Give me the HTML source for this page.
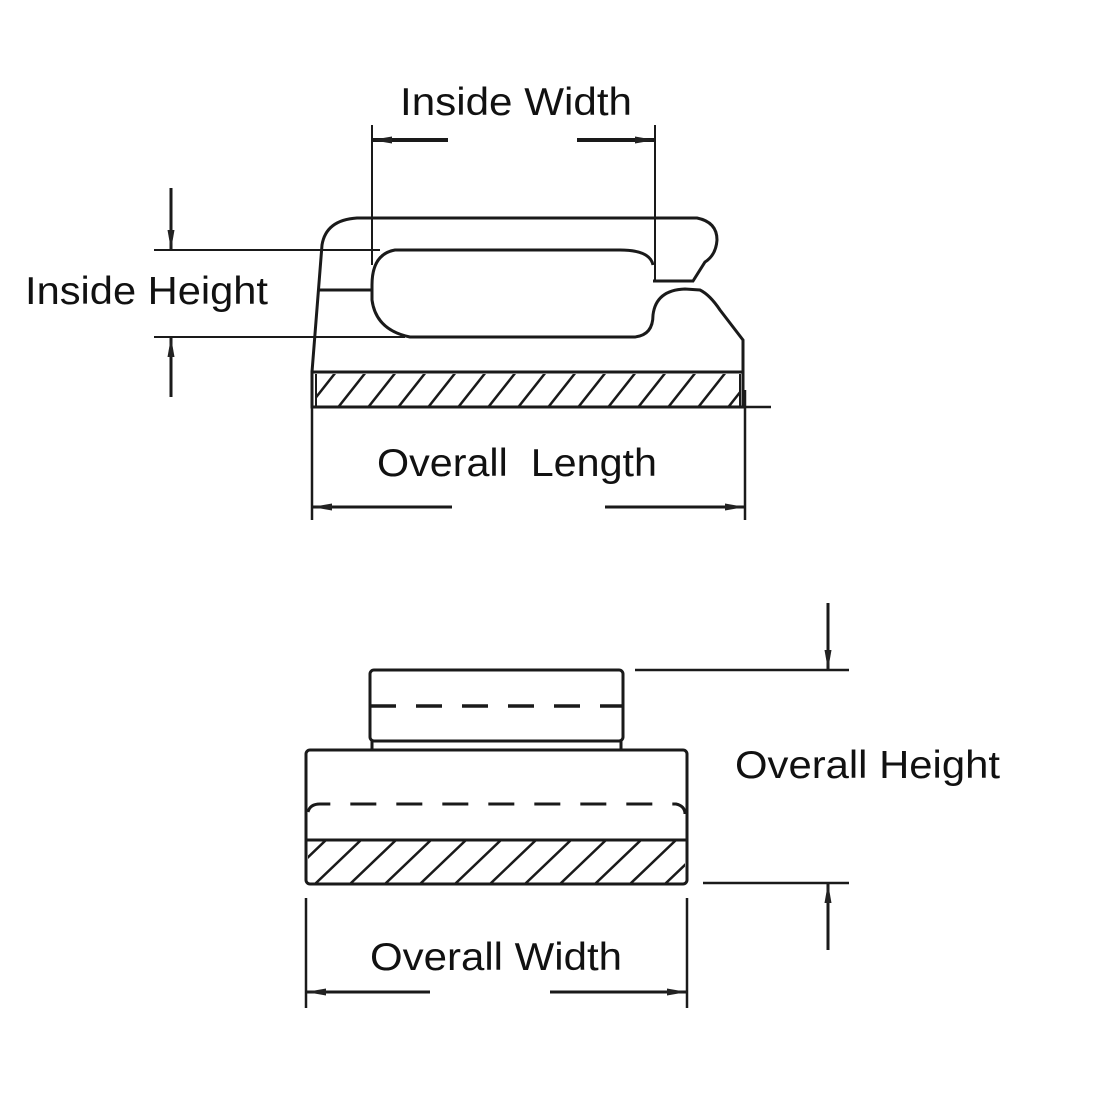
<!DOCTYPE html>
<html><head><meta charset="utf-8"><style>html,body{margin:0;padding:0;background:#fff}svg{display:block}</style></head>
<body>
<svg width="1100" height="1100" viewBox="0 0 1100 1100" xmlns="http://www.w3.org/2000/svg">
<defs>
<marker id="ar" markerWidth="20" markerHeight="10" refX="19" refY="5" orient="auto" markerUnits="userSpaceOnUse">
<path d="M0,1.5 L20,5 L0,8.5 Z" fill="#222"/>
</marker>
<clipPath id="c1"><rect x="316" y="374" width="424" height="32"/></clipPath>
<clipPath id="c2"><rect x="308" y="841" width="377" height="42"/></clipPath>
</defs>
<g fill="none" stroke="#1a1a1a" stroke-width="3" stroke-linecap="butt">
<path d="M312,372 L322,245 Q326,220 357,218 L697,218 Q717,222 717,240 Q716,255 705,262 L693,281 L653,281"/>
<path d="M653,265 Q650,250 620,250 L395,250 Q372,254 372,285 L372,300 Q376,330 410,337 L635,337 Q653,335 653,315 Q656,290 685,289 L700,290 Q710,295 720,310 L743,340 L743,372"/>
<line x1="318" y1="290" x2="372" y2="290"/>
<rect x="312" y="372" width="431" height="35"/>
<line x1="316" y1="374" x2="316" y2="406" stroke-width="2"/>
<line x1="740" y1="374" x2="740" y2="406" stroke-width="2"/>
<g clip-path="url(#c1)" stroke-width="2.5">
<path d="M306,410 L336,372 M336,410 L366,372 M366,410 L396,372 M396,410 L426,372 M426,410 L456,372 M456,410 L486,372 M486,410 L516,372 M516,410 L546,372 M546,410 L576,372 M576,410 L606,372 M606,410 L636,372 M636,410 L666,372 M666,410 L696,372 M696,410 L726,372 M726,410 L756,372"/>
</g>
<line x1="372" y1="125" x2="372" y2="265" stroke-width="2"/>
<line x1="655" y1="125" x2="655" y2="281" stroke-width="2"/>
<line x1="448" y1="140" x2="373" y2="140" stroke-width="4" marker-end="url(#ar)"/>
<line x1="577" y1="140" x2="654" y2="140" stroke-width="4" marker-end="url(#ar)"/>
<line x1="154" y1="250" x2="380" y2="250" stroke-width="2"/>
<line x1="154" y1="337" x2="405" y2="337" stroke-width="2"/>
<line x1="171" y1="188" x2="171" y2="249" stroke-width="3" marker-end="url(#ar)"/>
<line x1="171" y1="397" x2="171" y2="338" stroke-width="3" marker-end="url(#ar)"/>
<line x1="312" y1="390" x2="312" y2="520" stroke-width="2.5"/>
<line x1="745" y1="390" x2="745" y2="520" stroke-width="2.5"/>
<line x1="743" y1="407" x2="771" y2="407" stroke-width="2.5"/>
<line x1="452" y1="507" x2="313" y2="507" stroke-width="3" marker-end="url(#ar)"/>
<line x1="605" y1="507" x2="744" y2="507" stroke-width="3" marker-end="url(#ar)"/>
<rect x="370" y="670" width="253" height="71" rx="4"/>
<line x1="370" y1="706" x2="623" y2="706" stroke-dasharray="26,20" stroke-width="3.5"/>
<line x1="372" y1="741" x2="372" y2="750"/>
<line x1="621" y1="741" x2="621" y2="750"/>
<rect x="306" y="750" width="381" height="134" rx="4"/>
<path d="M308,812 Q310,804 320,804 L676,804 Q685,806 685,814" stroke-dasharray="26,20"/>
<line x1="306" y1="840" x2="687" y2="840"/>
<g clip-path="url(#c2)" stroke-width="2.5">
<path d="M280,884 L326,840 M315,884 L361,840 M350,884 L396,840 M385,884 L431,840 M420,884 L466,840 M455,884 L501,840 M490,884 L536,840 M525,884 L571,840 M560,884 L606,840 M595,884 L641,840 M630,884 L676,840 M665,884 L711,840"/>
</g>
<line x1="635" y1="670" x2="849" y2="670" stroke-width="2.5"/>
<line x1="703" y1="883" x2="849" y2="883" stroke-width="2.5"/>
<line x1="828" y1="603" x2="828" y2="669" stroke-width="3" marker-end="url(#ar)"/>
<line x1="828" y1="950" x2="828" y2="884" stroke-width="3" marker-end="url(#ar)"/>
<line x1="306" y1="898" x2="306" y2="1008" stroke-width="2.5"/>
<line x1="687" y1="898" x2="687" y2="1008" stroke-width="2.5"/>
<line x1="430" y1="992" x2="307" y2="992" stroke-width="3" marker-end="url(#ar)"/>
<line x1="550" y1="992" x2="686" y2="992" stroke-width="3" marker-end="url(#ar)"/>
</g>
<g font-family="Liberation Sans, Arial, sans-serif" font-size="39" fill="#111">
<text x="400" y="115" textLength="232" lengthAdjust="spacingAndGlyphs">Inside Width</text>
<text x="25" y="304" textLength="243" lengthAdjust="spacingAndGlyphs">Inside Height</text>
<text x="377" y="476" textLength="280" lengthAdjust="spacingAndGlyphs" xml:space="preserve">Overall  Length</text>
<text x="735" y="778" textLength="265" lengthAdjust="spacingAndGlyphs">Overall Height</text>
<text x="370" y="970" textLength="252" lengthAdjust="spacingAndGlyphs">Overall Width</text>
</g>
</svg>
</body></html>
